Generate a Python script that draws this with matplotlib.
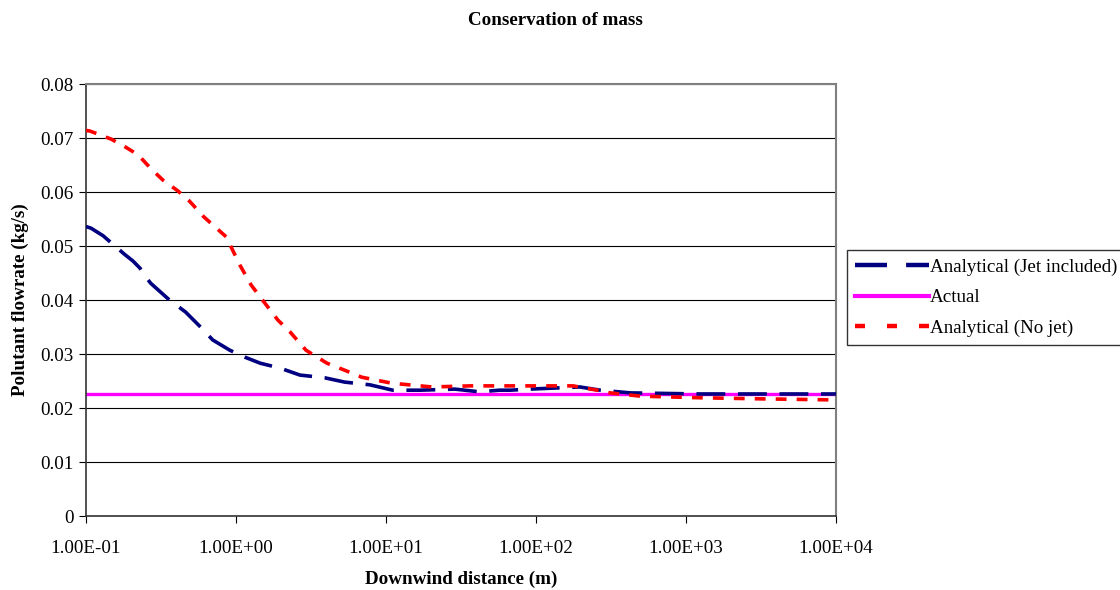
import matplotlib.pyplot as plt
from matplotlib.lines import Line2D
from matplotlib.ticker import FixedLocator, FuncFormatter, NullLocator

# downwind distance (m) and pollutant flowrate (kg/s)
x_jet = [0.1, 0.108, 0.13, 0.15, 0.18, 0.206, 0.229, 0.248, 0.27, 0.36, 0.46,
         0.58, 0.7, 0.91, 1.15, 1.45, 1.96, 2.67, 3.9, 5.3, 7.8, 11.1, 16.8,
         28.8, 42, 57, 67, 91, 134, 196, 268, 427, 1240, 10000]
y_jet = [0.0536, 0.0533, 0.0519, 0.0504, 0.0485, 0.0472, 0.0459, 0.0444, 0.0431,
         0.0400, 0.0378, 0.0350, 0.0326, 0.0307, 0.0294, 0.0283, 0.0274, 0.0261,
         0.0256, 0.0248, 0.0243, 0.0233, 0.0233, 0.0235, 0.0230, 0.0233, 0.0233,
         0.0235, 0.0237, 0.0239, 0.0233, 0.0228, 0.0226, 0.0226]

x_nojet = [0.1, 0.106, 0.147, 0.179, 0.222, 0.276, 0.326, 0.41, 0.49, 0.61, 0.86,
           1.06, 1.26, 1.56, 1.9, 2.29, 2.93, 4.04, 5.3, 6.9, 10.9, 20.2, 36.3,
           74, 106, 140, 177, 210, 256, 313, 494, 1240, 3100, 10000]
y_nojet = [0.0714, 0.0713, 0.0698, 0.0685, 0.0669, 0.0641, 0.0622, 0.0602, 0.0583,
           0.0554, 0.0517, 0.0465, 0.0428, 0.0394, 0.0363, 0.0341, 0.0307, 0.0283,
           0.0270, 0.0257, 0.0246, 0.0239, 0.0241, 0.0241, 0.0241, 0.0241, 0.0241,
           0.0237, 0.0233, 0.0228, 0.0222, 0.0219, 0.0217, 0.0215]

x_actual = [0.1, 10000]
y_actual = [0.0226, 0.0226]

labels = ["Analytical (Jet included)", "Actual", "Analytical (No jet)"]
x_ticks = [0.1, 1, 10, 100, 1000, 10000]
y_ticks = [0, 0.01, 0.02, 0.03, 0.04, 0.05, 0.06, 0.07, 0.08]

plt.rcParams["font.family"] = ["Liberation Serif", "DejaVu Serif"]
fs = 13.7
navy, magenta, red = "#000080", "#ff00ff", "#ff0000"

fig = plt.figure(figsize=(11.2, 5.9), dpi=100)
ax = fig.add_axes([0.0768, 0.1254, 0.6696, 0.7322])

ax.plot(x_jet, y_jet, color=navy, lw=2.6, dashes=(8, 3.5), zorder=3)
ax.plot(x_actual, y_actual, color=magenta, lw=2.4, zorder=2)
ax.plot(x_nojet, y_nojet, color=red, lw=2.6, dashes=(3, 2.8), zorder=4)

ax.set_xscale("log")
ax.set_xlim(0.1, 10000)
ax.set_ylim(0, 0.08)
ax.xaxis.set_major_locator(FixedLocator(x_ticks))
ax.xaxis.set_minor_locator(NullLocator())
ax.xaxis.set_major_formatter(FuncFormatter(lambda v, p: f"{v:.2E}"))
ax.yaxis.set_major_locator(FixedLocator(y_ticks))
ax.yaxis.set_major_formatter(FuncFormatter(lambda v, p: f"{v:g}"))
ax.tick_params(direction="out", length=5, width=0.8, labelsize=fs)
ax.tick_params(axis="x", pad=12)
ax.tick_params(axis="y", pad=4)

ax.grid(axis="y", color="black", lw=0.8)
ax.set_axisbelow(True)
for side in ("left", "bottom"):
    ax.spines[side].set_color("#333333")
    ax.spines[side].set_linewidth(1.2)
for side in ("top", "right"):
    ax.spines[side].set_color("#808080")
    ax.spines[side].set_linewidth(1.5)

ax.set_xlabel("Downwind distance (m)", fontsize=fs, fontweight="bold", labelpad=10)
ax.set_ylabel("Polutant flowrate (kg/s)", fontsize=fs, fontweight="bold", labelpad=8)
fig.text(0.496, 0.965, "Conservation of mass", ha="center", va="center",
         fontsize=fs, fontweight="bold")

# legend keys use a longer dash pattern than the plotted lines
handles = [
    Line2D([], [], color=navy, lw=3.2, dashes=(7.2, 4.3)),
    Line2D([], [], color=magenta, lw=3.0),
    Line2D([], [], color=red, lw=3.2, dashes=(2.25, 4.95)),
]
leg = fig.legend(handles, labels, loc="upper left", bbox_to_anchor=(0.756, 0.576),
                 fontsize=fs, frameon=True, fancybox=False, handlelength=3.9,
                 handletextpad=0.05, borderpad=0.42, labelspacing=0.7,
                 borderaxespad=0)
leg.get_frame().set_edgecolor("black")
leg.get_frame().set_linewidth(1.0)

fig.savefig("out.png", dpi=100)
